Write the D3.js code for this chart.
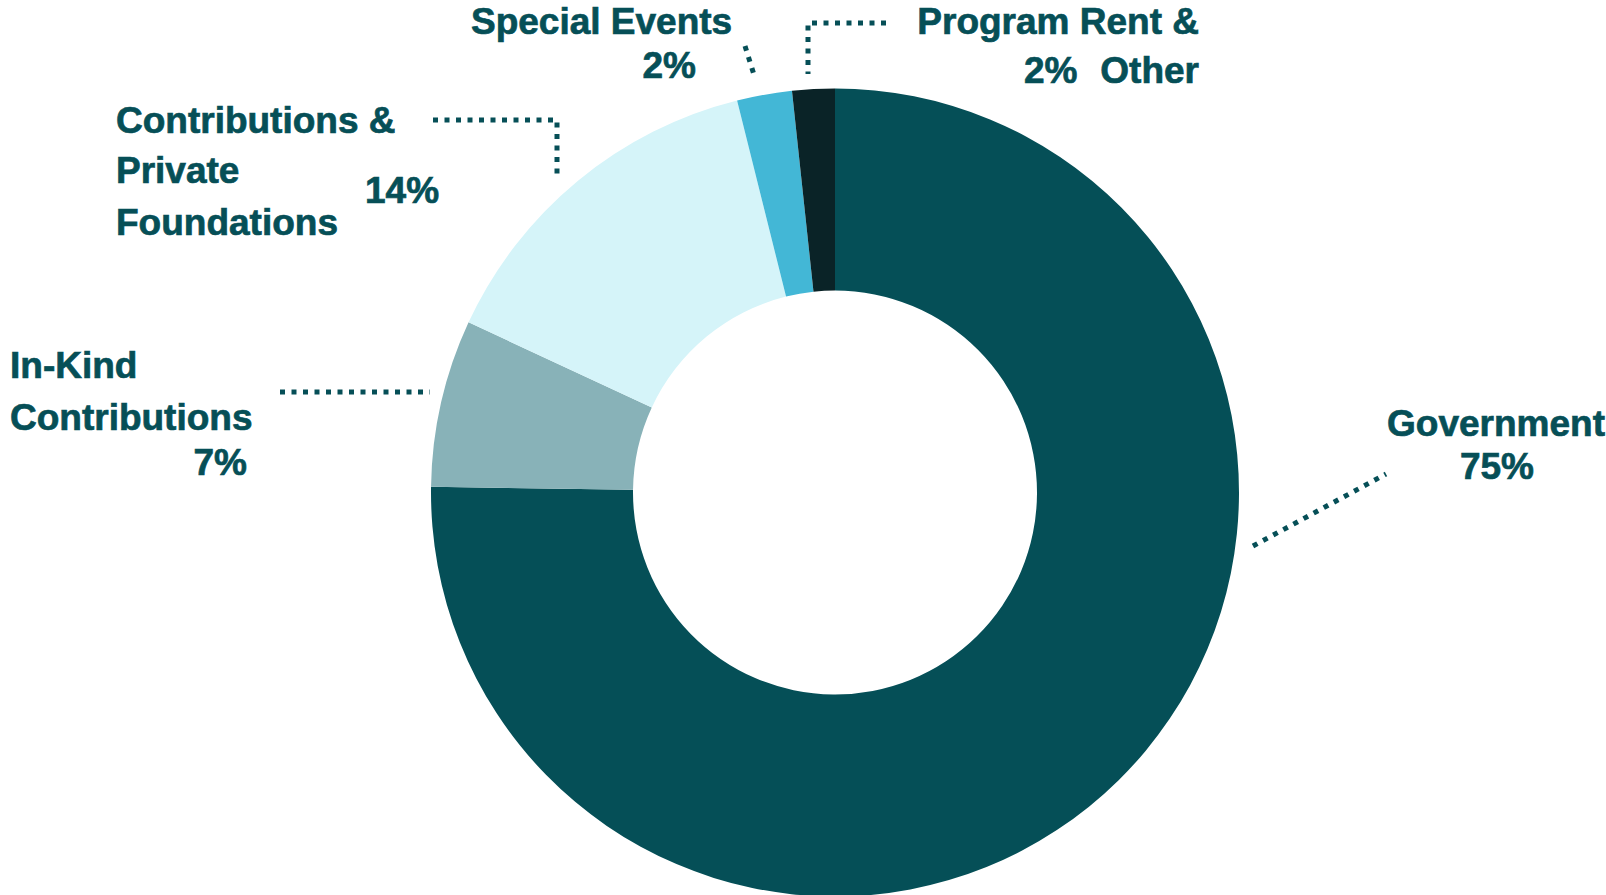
<!DOCTYPE html>
<html>
<head>
<meta charset="utf-8">
<script src="https://cdn.jsdelivr.net/npm/d3@7"></script>
<style>
  body { margin: 0; background: #fff; }
  .lbl { font-family: "Liberation Sans", Arial, sans-serif; font-weight: bold; font-size: 37px;
         fill: #064f57; stroke: #064f57; stroke-width: 0.7px; }
</style>
</head>
<body>
<div id="chart"></div>
<script>
// revenue split (share of total, read from the ring)
const categories = ["Government", "In-Kind Contributions", "Contributions & Private Foundations", "Special Events", "Program Rent & Other"];
const shares = [75.3, 6.7, 14.2, 2.2, 1.7];
const pctLabels = ["75%", "7%", "14%", "2%", "2%"];
const sliceColors = ["#054f57", "#88b2b8", "#d5f4f9", "#43b7d6", "#0a2327"];

// label text lines per category (name lines, then percent)
const nameLines = [
    ["Government"],
    ["In-Kind", "Contributions"],
    ["Contributions &", "Private", "Foundations"],
    ["Special Events"],
    ["Program Rent &", "Other"]
];

class DonutChart {
    constructor(){
        this.width = 1606;
        this.height = 895;
        this.cx = 835;
        this.cy = 492.5;
        this.outerR = 404;
        this.innerR = 202;
        this.svg = d3.select("#chart").append("svg")
            .attr("width", this.width)
            .attr("height", this.height);
    }

    draw(){
        let pie = d3.pie().sort(null).value(d => d);
        let arc = d3.arc().innerRadius(this.innerR).outerRadius(this.outerR);
        let color = d3.scaleOrdinal().domain(categories).range(sliceColors);

        let ring = this.svg.append("g")
            .attr("id", "ring")
            .attr("transform", "translate(" + this.cx + "," + this.cy + ")");
        ring.selectAll("path")
            .data(pie(shares))
            .enter().append("path")
            .attr("d", arc)
            .attr("fill", (d, i) => color(categories[i]));

        this.drawLabels();
    }

    drawLabels(){
        // annotation placement (text lines + dotted leaders), one entry per category
        let layout = [
            {   // Government
                lines: [{x: 1605, y: 436, anchor: "end"}],
                pct: {x: 1497, y: 479, anchor: "middle"},
                leader: [[1253, 546], [1386, 474]]
            },
            {   // In-Kind
                lines: [{x: 10, y: 378, anchor: "start"}, {x: 10, y: 430, anchor: "start"}],
                pct: {x: 247, y: 475, anchor: "end"},
                leader: [[280, 392], [430, 392]]
            },
            {   // Contributions & Private Foundations
                lines: [{x: 116, y: 133, anchor: "start"}, {x: 116, y: 183, anchor: "start"}, {x: 116, y: 235, anchor: "start"}],
                pct: {x: 365, y: 203, anchor: "start"},
                leader: [[433, 120], [557, 120], [557, 175]]
            },
            {   // Special Events
                lines: [{x: 471, y: 34, anchor: "start"}],
                pct: {x: 696, y: 78, anchor: "end"},
                leader: [[745, 46], [755, 78]]
            },
            {   // Program Rent & Other
                lines: [{x: 1199, y: 34, anchor: "end"}, {x: 1199, y: 83, anchor: "end"}],
                pct: {x: 1024, y: 83, anchor: "start"},
                leader: [[886, 23], [808, 23], [808, 74]]
            }
        ];

        let labels = this.svg.append("g").attr("id", "labels");
        let line = d3.line();

        layout.forEach((l, i) => {
            let g = labels.append("g").attr("class", "label-group");
            nameLines[i].forEach((t, j) => {
                g.append("text")
                    .attr("class", "lbl")
                    .attr("x", l.lines[j].x)
                    .attr("y", l.lines[j].y)
                    .style("text-anchor", l.lines[j].anchor)
                    .text(t);
            });
            g.append("text")
                .attr("class", "lbl")
                .attr("x", l.pct.x)
                .attr("y", l.pct.y)
                .style("text-anchor", l.pct.anchor)
                .text(pctLabels[i]);
            g.append("path")
                .attr("d", line(l.leader))
                .attr("fill", "none")
                .attr("stroke", "#064f57")
                .attr("stroke-width", 5)
                .style("stroke-dasharray", "5, 6.5");
        });
    }
}

let chart = new DonutChart();
chart.draw();
</script>
</body>
</html>
